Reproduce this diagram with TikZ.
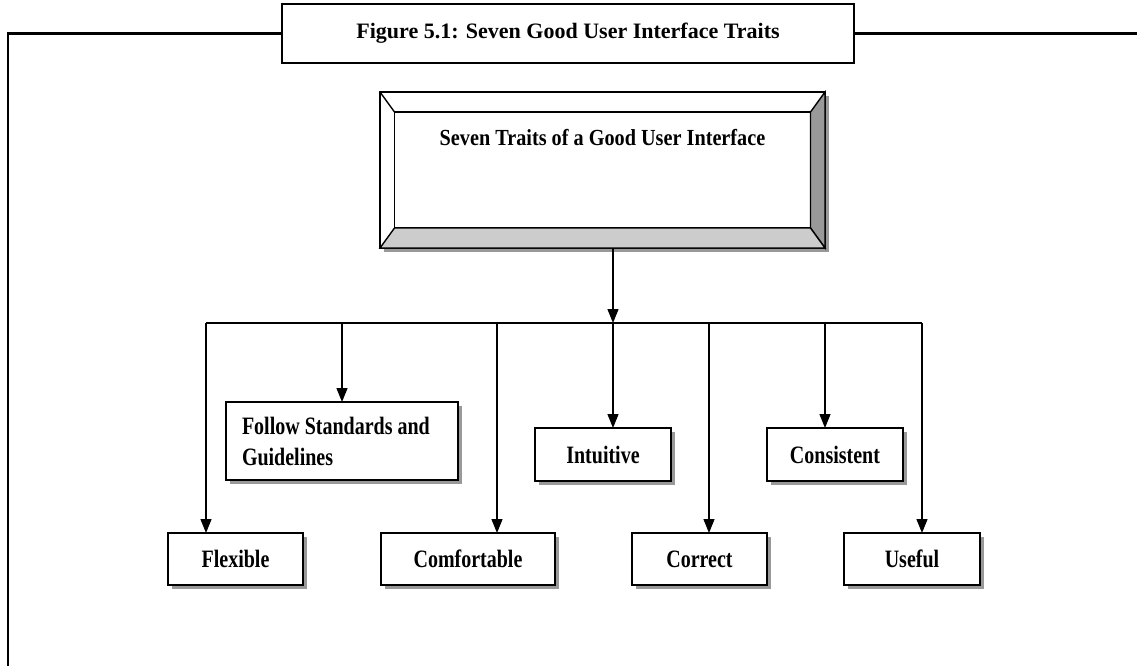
\documentclass[tikz,border=0pt]{standalone}
\usepackage{fontspec}
\setmainfont{Liberation Serif}
\newfontfamily\traitfont{Liberation Serif}[FakeStretch=0.8]
\newfontfamily\headfont{Liberation Serif}[FakeStretch=0.88]
\usetikzlibrary{positioning, arrows.meta, shadows}
\definecolor{bevelside}{HTML}{999999}
\definecolor{bevelfoot}{HTML}{CCCCCC}

\begin{document}
\begin{tikzpicture}[x=0.5pt, y=-0.5pt,
    frame/.style={line width=1.35pt},
    figcap/.style={draw, frame, fill=white, inner sep=0pt, outer sep=0pt,
      minimum width=286pt, minimum height=29.5pt,
      font=\bfseries\fontsize{11}{13}\selectfont},
    trait/.style={draw, fill=white, line width=0.7pt, inner sep=0pt, outer sep=0pt,
      minimum width=67.5pt, minimum height=26pt,
      font=\traitfont\bfseries\fontsize{12.5}{15.5}\selectfont,
      drop shadow={shadow xshift=2pt, shadow yshift=-2pt, fill=bevelside, opacity=1}},
    link/.style={line width=0.65pt},
    arr/.style={link, -{Triangle[length=7pt, width=5.5pt]}}]

    \useasboundingbox (0,0) rectangle (1137,666);

    % caption and frame
    \node [figcap] (caption) at (568,33.5) {Figure 5.1: Seven Good User Interface Traits};
    \coordinate (frameL) at (8,666);
    \coordinate (frameR) at (1137,33.5);
    \draw [frame] (frameL) |- (caption.west);
    \draw [frame] (caption.east) -- (frameR);

    % bevelled title box
    \node [draw, fill=white, line width=0.7pt, inner sep=0pt, outer sep=0pt,
      minimum width=222.5pt, minimum height=78pt,
      drop shadow={shadow xshift=2pt, shadow yshift=-2pt, fill=bevelside, opacity=1}]
      (traits) at (602.5,170) {};
    \node [draw, line width=0.7pt, inner sep=0pt, outer sep=0pt,
      minimum width=208pt, minimum height=58pt] (inner) at (traits.center) {};
    \filldraw [fill=bevelside, line width=0.7pt] (traits.north east) -- (traits.south east)
      -- (inner.south east) -- (inner.north east) -- cycle;
    \filldraw [fill=bevelfoot, line width=0.7pt] (traits.south west) -- (traits.south east)
      -- (inner.south east) -- (inner.south west) -- cycle;
    \draw [line width=0.7pt] (traits.north west) -- (inner.north west);
    \node [font=\headfont\bfseries\fontsize{11.5}{14}\selectfont] (headline) at (602.5,138)
      {Seven Traits of a Good User Interface};

    % traits
    \node [trait] (flex) at (235.5,559) {Flexible};
    \node [trait, align=flush left, text width=100pt, inner xsep=8pt, minimum height=39pt]
      (follow) at (342,441) {Follow Standards and\\Guidelines};
    \node [trait, minimum width=87pt] (comfort) at (468,559) {Comfortable};
    \node [trait, minimum width=68pt, minimum height=26.5pt] (intuit) at (603,454.5) {Intuitive};
    \node [trait] (correct) at (699.5,559) {Correct};
    \node [trait, minimum width=68pt, minimum height=26.5pt] (consist) at (835,454.5) {Consistent};
    \node [trait, minimum width=68pt] (useful) at (912,559) {Useful};

    % connectors
    \coordinate (hub) at (613,323);
    \coordinate (d1) at (206,323);
    \coordinate (d2) at (342,323);
    \coordinate (d3) at (497,323);
    \coordinate (d4) at (709,323);
    \coordinate (d5) at (825,323);
    \coordinate (d6) at (922,323);
    \draw [arr] (traits.south -| hub) -- (hub);
    \draw [link] (d1) -- (d6);
    \draw [arr] (hub) -- (hub |- intuit.north);
    \foreach \d/\n in {d1/flex, d2/follow, d3/comfort, d4/correct, d5/consist, d6/useful}
      \draw [arr] (\d) -- (\d |- \n.north);

\end{tikzpicture}
\end{document}
